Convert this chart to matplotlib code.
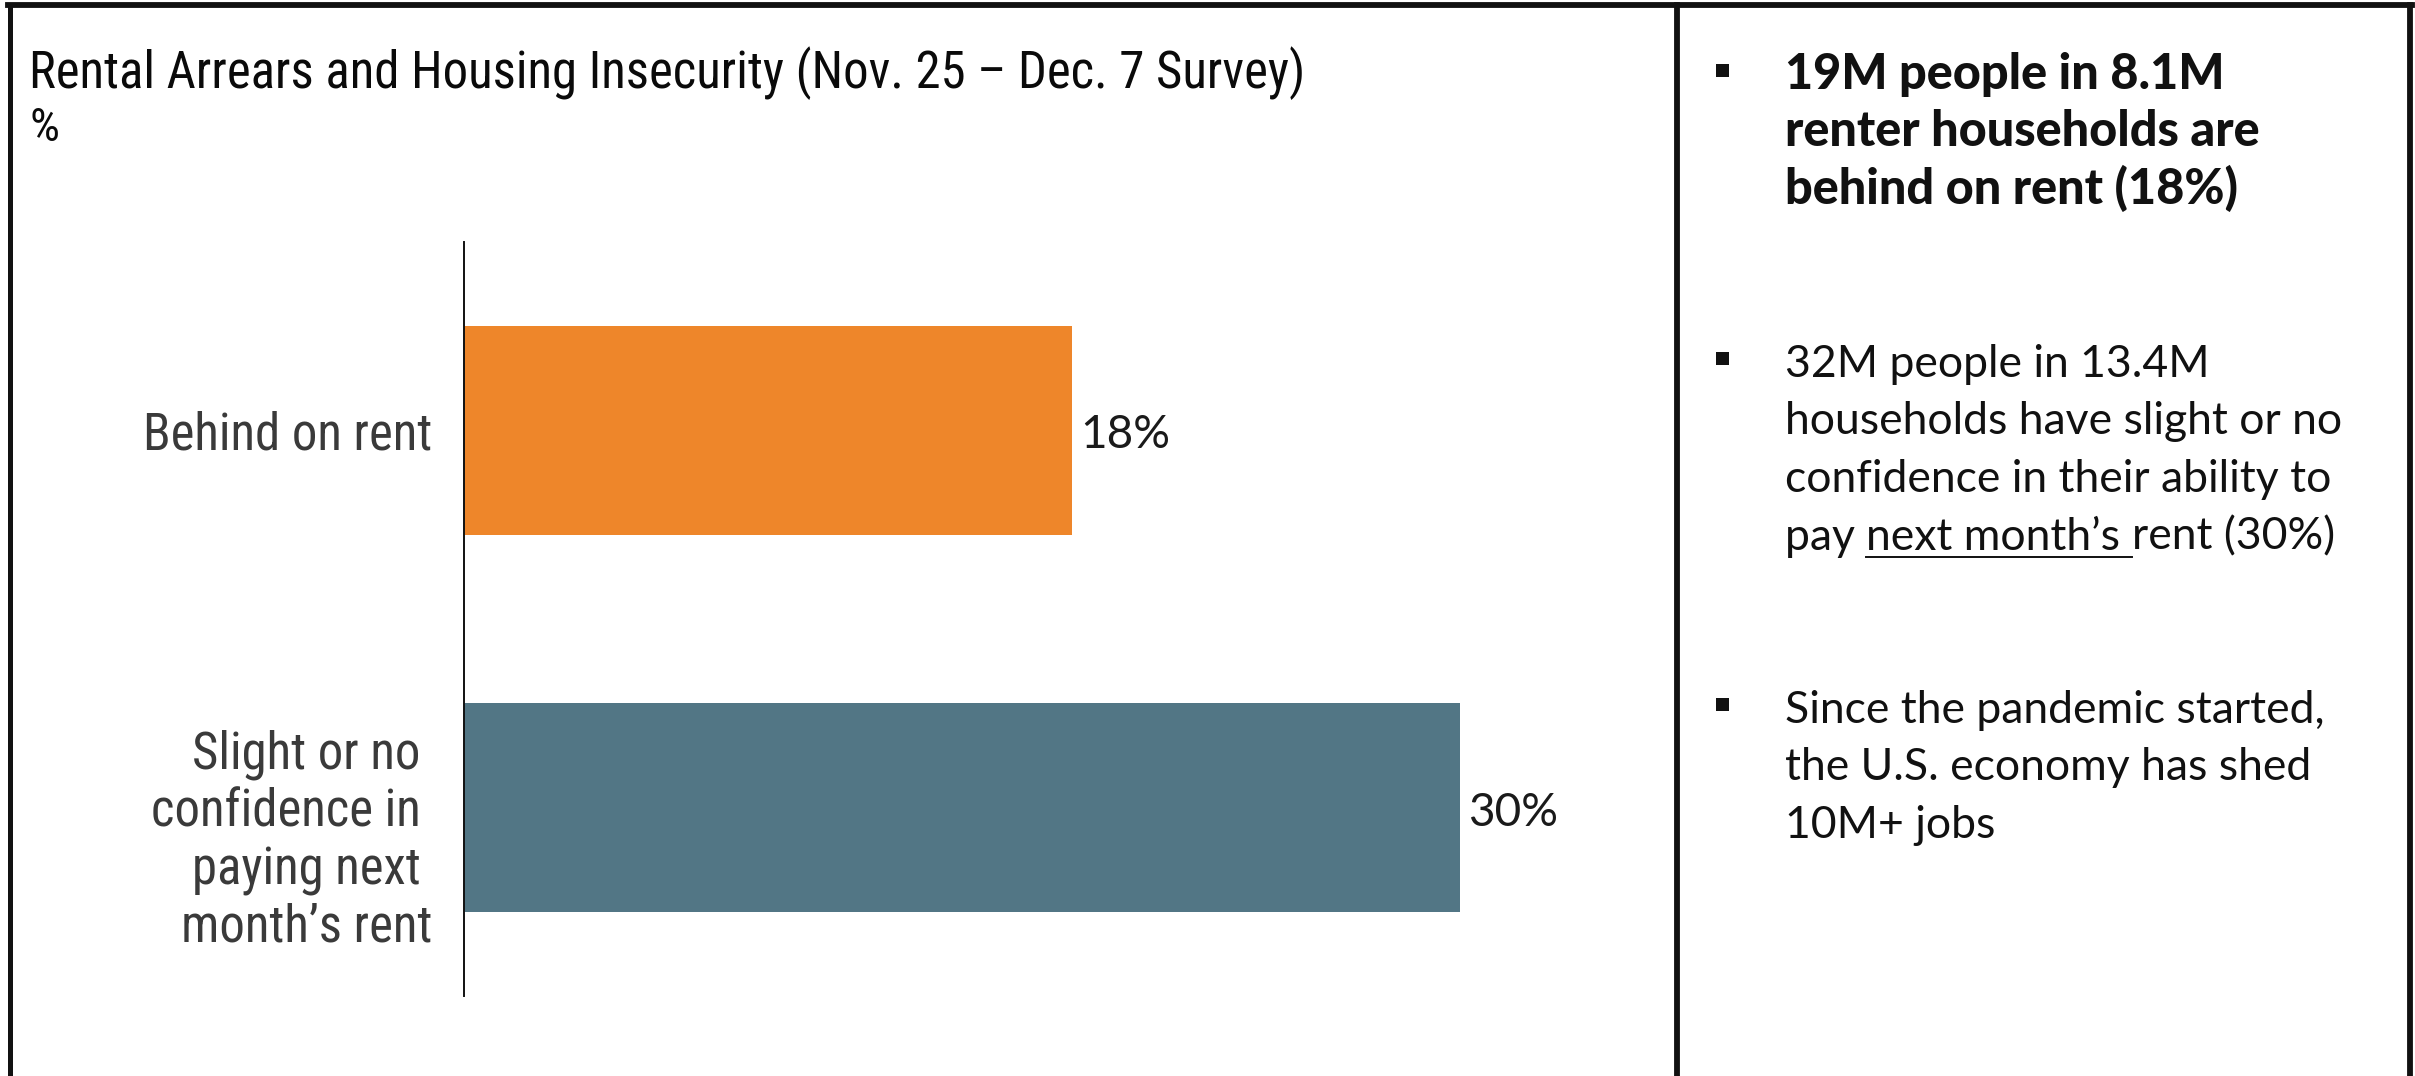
import matplotlib.pyplot as plt
import matplotlib.transforms as mtransforms
from matplotlib.lines import Line2D
from matplotlib.patches import Rectangle

# data
categories = ['Behind on rent', 'Slight or no \nconfidence in \npaying next \nmonth\u2019s rent']
values = [18.2, 29.8]
bar_colors = ['#EE862A', '#527685']

title = 'Rental Arrears and Housing Insecurity (Nov. 25 \u2013 Dec. 7 Survey)'
unit = '%'

bullet1 = ['19M people in 8.1M', 'renter households are', 'behind on rent (18%)']
bullet2 = ['32M people in 13.4M', 'households have slight or no', 'confidence in their ability to']
bullet2_last = ['pay ', 'next month\u2019s ', 'rent (30%)']
bullet3 = ['Since the pandemic started,', 'the U.S. economy has shed', '10M+ jobs']

W, H = 2415, 1076
narrow = ['Roboto Condensed', 'DejaVu Sans']
gill = ['Lato', 'DejaVu Sans']


def fx(x):
    return x / W


def fy(y):
    return 1 - y / H


fig = plt.figure(figsize=(W / 100, H / 100), dpi=100)

# frame around the slide
for x0, lw in [(10, 3.6), (1677, 4.2), (2410, 4.2)]:
    fig.add_artist(Line2D([fx(x0), fx(x0)], [0, fy(5)], color='#111111', lw=lw))
fig.add_artist(Line2D([fx(8), fx(2412)], [fy(5), fy(5)], color='#111111', lw=4.2))

# bar chart
scale = 33.43  # px per percent
ax = fig.add_axes([fx(464), fy(996), 35 * scale / W, (996 - 242) / H])
ypos = list(range(len(categories)))
ax.barh(ypos, values, height=0.554, color=bar_colors)
ax.set_xlim(0, 35)
ax.set_ylim(1.5, -0.5)
ax.set_xticks([])
ax.set_yticks([])
for s in ['top', 'right', 'bottom']:
    ax.spines[s].set_visible(False)
ax.spines['left'].set_linewidth(1.4)
ax.spines['left'].set_color('#111111')


def off(tr, dx, dy):
    # shift by pixels (dy positive = down)
    return tr + mtransforms.ScaledTranslation(dx / 100, -dy / 100, fig.dpi_scale_trans)


line_step = 57.7
for i, (cat, v) in enumerate(zip(categories, values)):
    parts = cat.split('\n')
    first = 19 - (len(parts) - 1) * line_step / 3
    for k, p in enumerate(parts):
        ax.text(0, i, p, transform=off(ax.get_yaxis_transform(), -32, first + k * line_step),
                ha='right', va='baseline', fontsize=36.5, family=narrow, color='#3a3a3a')
    ax.text(v, i, f'{v:.0f}%', transform=off(ax.transData, 8, 18),
            ha='left', va='baseline', fontsize=33, family=gill, color='#1a1a1a')

# title
fig.text(fx(29), fy(88), title, ha='left', va='baseline', fontsize=36.5, family=narrow, color='#0a0a0a')
fig.text(fx(30), fy(141), unit, ha='left', va='baseline', fontsize=34, family=narrow, color='#0a0a0a')

# right panel bullets
tx = 1785
step = 57.5


def bullet(y):
    fig.add_artist(Rectangle((fx(1716), fy(y - 12)), 13 / W, 13 / H, color='#111111', lw=0))


def lines(lst, y0, **kw):
    for k, s in enumerate(lst):
        fig.text(fx(tx), fy(y0 + k * step), s, ha='left', va='baseline',
                 family=gill, color='#111111', **kw)


bullet(89)
lines(bullet1, 89, fontsize=35, weight='black')
bullet(377)
lines(bullet2, 377, fontsize=32)
bullet(723)
lines(bullet3, 723, fontsize=32)

# last line of bullet 2 with underlined part
fig.canvas.draw()
renderer = fig.canvas.get_renderer()
ybl = 377 + 3 * step
x = tx
for k, s in enumerate(bullet2_last):
    t = fig.text(fx(x), fy(ybl), s, ha='left', va='baseline', fontsize=32,
                 family=gill, color='#111111')
    w = t.get_window_extent(renderer).width
    if k == 1:
        fig.add_artist(Line2D([fx(x), fx(x + w)], [fy(ybl + 7), fy(ybl + 7)], color='#111111', lw=1.4))
    x += w

fig.savefig('out.png', dpi=100)
